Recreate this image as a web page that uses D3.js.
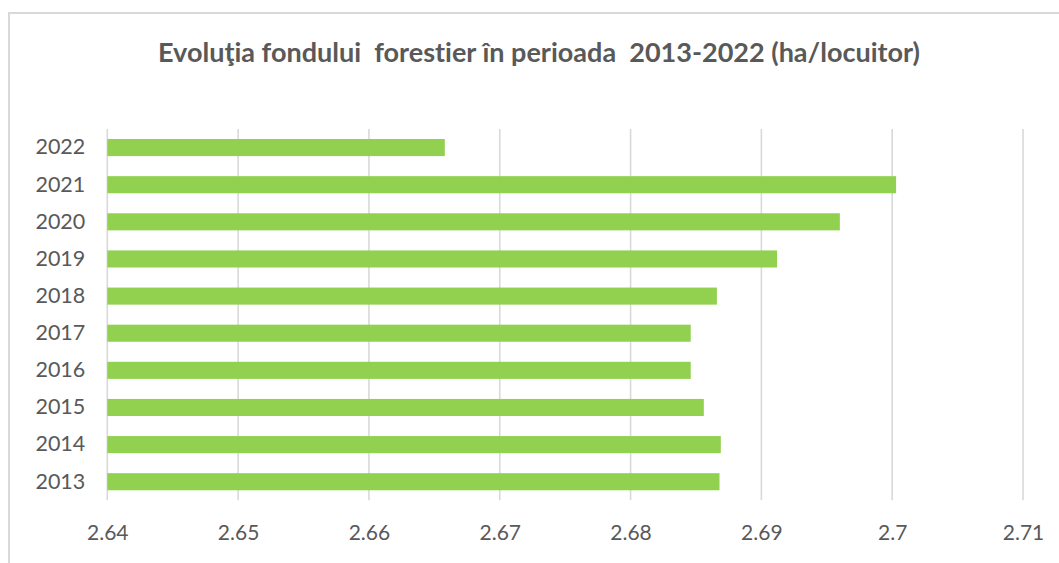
<!DOCTYPE html>
<html>
<head>
<meta charset="utf-8">
<script src="https://cdn.jsdelivr.net/npm/d3@7"></script>
<style>
  html, body { margin: 0; padding: 0; background: #fff; overflow: hidden; }
  svg text { font-family: Lato, "Liberation Sans", sans-serif; fill: #595959; font-variant-ligatures: none; }
</style>
</head>
<body>
<svg id="chart" width="1059" height="563"></svg>
<script>
// values (ha/locuitor)
const years = ['2022', '2021', '2020', '2019', '2018', '2017', '2016', '2015', '2014', '2013'];
const values = [2.6658, 2.7003, 2.6960, 2.6912, 2.6866, 2.6846, 2.6846, 2.6856, 2.6869, 2.6868];
const xTicks = [2.64, 2.65, 2.66, 2.67, 2.68, 2.69, 2.7, 2.71];
const title = 'Evoluţia fondului  forestier în perioada  2013-2022 (ha/locuitor)';

const svg = d3.select('svg#chart');

// chart frame (cut off at right and bottom like the screenshot)
svg.append('rect')
  .attr('x', 9).attr('y', 13)
  .attr('width', 1100).attr('height', 600)
  .attr('fill', '#fff')
  .attr('stroke', '#d9d9d9')
  .attr('stroke-width', 2);

const plot = {left: 107.3, right: 1023, top: 129, bottom: 500.3};

const x = d3.scaleLinear().domain([2.64, 2.71]).range([plot.left, plot.right]);
const y = d3.scaleBand().domain(years).range([plot.top, plot.bottom]).paddingInner(0.54).paddingOuter(0.27);

// gridlines
svg.append('g')
  .selectAll('line')
  .data(xTicks)
  .join('line')
  .attr('x1', d => x(d)).attr('x2', d => x(d))
  .attr('y1', plot.top).attr('y2', plot.bottom)
  .attr('stroke', '#d9d9d9')
  .attr('stroke-width', 1.6);

// bars
svg.append('g')
  .selectAll('rect')
  .data(years.map((yr, i) => ({yr, v: values[i]})))
  .join('rect')
  .attr('x', x(2.64))
  .attr('y', d => y(d.yr))
  .attr('width', d => x(d.v) - x(2.64))
  .attr('height', y.bandwidth())
  .attr('fill', '#92d050');

// x axis labels
const xAxis = svg.append('g')
  .attr('transform', `translate(0,${plot.bottom})`)
  .call(d3.axisBottom(x).tickValues(xTicks).tickFormat(d3.format('')).tickSize(0).tickPadding(25));
xAxis.select('.domain').remove();
xAxis.selectAll('text')
  .style('font-size', '21px')
  .attr('fill', '#595959');

// y axis labels
const yAxis = svg.append('g')
  .attr('transform', `translate(${plot.left - 22},0)`)
  .call(d3.axisLeft(y).tickSize(0).tickPadding(0));
yAxis.select('.domain').remove();
yAxis.selectAll('text')
  .style('font-size', '21.5px')
  .attr('fill', '#595959');

// title, sized to the width seen in the reference (keeps the double spaces)
const t = svg.append('text')
  .attr('x', 539).attr('y', 62)
  .attr('text-anchor', 'middle')
  .attr('xml:space', 'preserve')
  .style('white-space', 'pre')
  .style('font-weight', 'bold')
  .style('font-size', '24px')
  .text(title);
const w = t.node().getComputedTextLength();
t.style('font-size', (24 * 762 / w).toFixed(2) + 'px');
</script>
</body>
</html>
